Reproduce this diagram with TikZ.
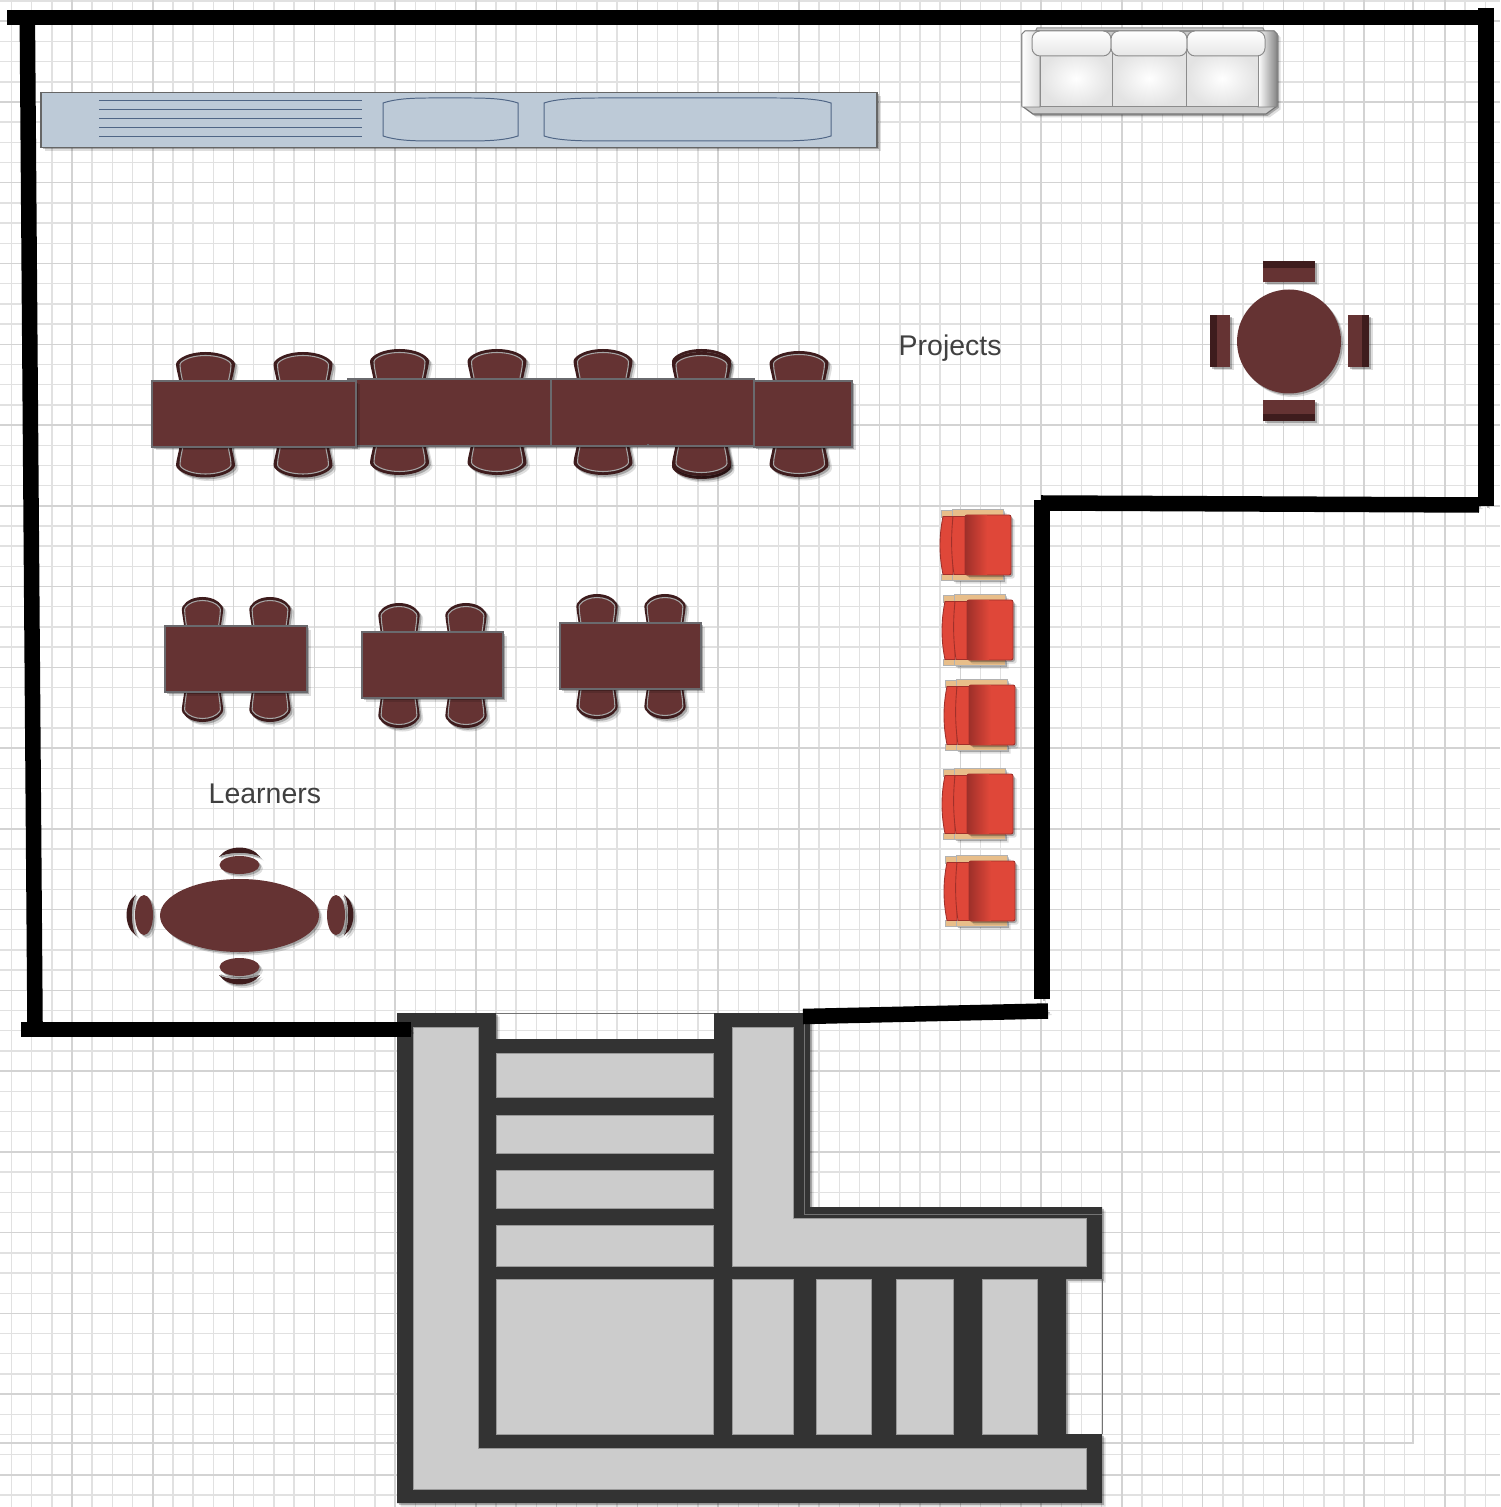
\documentclass[tikz,border=0pt]{standalone}
\usepackage{fontspec}
\setmainfont{Liberation Sans}
\usetikzlibrary{calc}
\definecolor{gridminor}{HTML}{E1E1E1}
\definecolor{gridmajor}{HTML}{D3D3D3}
\definecolor{wood}{HTML}{653333}
\definecolor{wooddark}{HTML}{3E1C1D}
\definecolor{woodedge}{HTML}{6A6A6E}
\definecolor{counter}{HTML}{BDCAD7}
\definecolor{counterline}{HTML}{4F6585}
\definecolor{stairdark}{HTML}{333333}
\definecolor{stairgrey}{HTML}{CCCCCC}
\definecolor{chairred}{HTML}{DF4739}
\definecolor{chairdeep}{HTML}{A0302A}
\definecolor{chairtan}{HTML}{E8BE8A}
\definecolor{label}{HTML}{404040}
\tikzset{gridthin/.style={draw=gridminor,line width=.4pt},gridthick/.style={draw=gridmajor,line width=.42pt},soft/.style={preaction={fill=black,opacity=.13,transform canvas={shift={(.035cm,-.035cm)}}},preaction={fill=black,opacity=.25,transform canvas={shift={(.018cm,-.018cm)}}}},wall/.style={draw=black,line width=.155cm,preaction={draw=black,opacity=.13,transform canvas={shift={(.035cm,-.035cm)}}},preaction={draw=black,opacity=.25,transform canvas={shift={(.018cm,-.018cm)}}}},tabletop/.style={soft,fill=wood,draw=woodedge,line width=.35pt},tread/.style={fill=stairgrey,draw=black!40,line width=.28pt},bowl/.style={draw=counterline,line width=.28pt},tag/.style={font=\fontsize{8.1}{10}\selectfont,text=label,anchor=base west,inner sep=0pt},
pics/chair/.style={code={\path[soft,fill=wooddark] (-26,33) .. controls (-26,26) and (-29,20) .. (-29.5,12)--(-28.5,9.5) .. controls (-23,3) and (-11,0) .. (0,0) .. controls (11,0) and (23,3) .. (28.5,9.5)--(29.5,12) .. controls (29,20) and (26,26) .. (26,33)--cycle; \draw[fill=wood,draw=black!35,line width=.3pt] (-22.5,33) .. controls (-23,26) and (-25.5,20) .. (-25.5,12.5)--(-24.5,10.5) .. controls (-20,6) and (-10,3.5) .. (0,3.5) .. controls (10,3.5) and (20,6) .. (24.5,10.5)--(25.5,12.5) .. controls (25.5,20) and (23,26) .. (22.5,33)--cycle;}},
pics/stool/.style={code={\path[soft,fill=wooddark] (-20.5,-8) .. controls (-12,-20.6) and (12,-20.6) .. (20.5,-8) .. controls (12,-13.3) and (-12,-13.3) .. (-20.5,-8)--cycle; \draw[draw=black!35,line width=.45pt] (-19,-8) .. controls (-10,-12) and (10,-12) .. (19,-8); \path[soft,fill=wood] (0,0) ellipse [x radius=20,y radius=9];}},
pics/seat/.style={code={\path[fill=chairtan,draw=black!30,line width=.2pt] (1,.5) rectangle (13,7) (1,64.5) rectangle (13,70.5); \path[soft,fill=chairtan,draw=black!30,line width=.2pt] (12,-.5) rectangle (63,6) (12,64) rectangle (63,70); \draw[fill=chairred,draw=chairdeep,line width=.25pt] (3,6.5)--(13,6.5)--(13,64.5)--(3,64.5) .. controls (-1,45) and (-1,26) .. (3,6.5)--cycle; \draw[fill=chairred,draw=chairdeep,line width=.25pt] (13,6.5) .. controls (11,25) and (11,45) .. (14,64.5)--(26,64.5)--(26,6.5)--cycle; \draw[soft,rounded corners=.02cm,fill=chairred,draw=chairdeep,line width=.25pt] (25,5) rectangle (71,65); \shade[left color=chairdeep,right color=chairred] (25.5,5.5) rectangle (47,64.5);}}}

\begin{document}
\begin{tikzpicture}[x=.01cm,y=-.01cm]

\useasboundingbox (0,0) rectangle (1500,1507);
\fill[white] (0,0) rectangle (1500,1507);
\foreach \k in {-3,...,70} {\draw[gridthin] ({72+20.19*\k},0)--({72+20.19*\k},1507);}
\foreach \k in {-5,...,69} {\draw[gridthin] (0,{102+20.19*\k})--(1500,{102+20.19*\k});}
\foreach \k in {0,...,17} {\draw[gridthick] ({72+80.76*\k},0)--({72+80.76*\k},1507);}
\foreach \k in {-1,...,17} {\draw[gridthick] (0,{102+80.76*\k})--(1500,{102+80.76*\k});}
\draw[gridthick] (0,1443)--(1413,1443)--(1413,0);

\draw[soft,fill=counter,draw=black!60,line width=.3pt] (41,92.5) rectangle (877,147.5);
\foreach \y in {101,110,119,128,137} {\draw[bowl] (99,\y)--(362,\y);}
\draw[bowl] (383,103) .. controls (395,99) and (410,98) .. (430,98)--(470,98) .. controls (490,98) and (506,99) .. (518,103)--(518,136) .. controls (506,140) and (490,141) .. (470,141)--(430,141) .. controls (410,141) and (395,140) .. (383,136)--cycle;
\draw[bowl] (544,103) .. controls (556,99) and (575,98) .. (600,98)--(775,98) .. controls (800,98) and (819,99) .. (831,103)--(831,136) .. controls (819,140) and (800,141) .. (775,141)--(600,141) .. controls (575,141) and (556,140) .. (544,136)--cycle;

\draw[fill=stairgrey,draw=black!45,line width=.28pt] (1035,32)--(1037,28)--(1263,28)--(1265,32)--cycle;
\draw[soft,fill=stairgrey,draw=black!55,line width=.3pt] (1022,34)--(1025,31)--(1274,31)--(1277,34)--(1277,106)--(1266,114)--(1033,114)--(1022,106)--cycle;
\draw[left color=white,right color=black!14,draw=black!50,line width=.25pt] (1022,34)--(1025,31)--(1040,31)--(1040,107)--(1022,107)--cycle;
\draw[left color=white,right color=black!48,draw=black!50,line width=.25pt] (1258,31)--(1274,31)--(1277,34)--(1277,107)--(1258,107)--cycle;
\foreach \a/\b in {1040/1112,1112/1186,1186/1258} {\draw[inner color=white,outer color=black!11,draw=black!45,line width=.28pt] (\a,50) rectangle (\b,107);}
\foreach \a/\b in {1032/1111,1111/1187,1187/1265} {\draw[rounded corners=.08cm,top color=white,bottom color=black!10,draw=black!45,line width=.28pt] (\a,31) rectangle (\b,56);}

\foreach \cx/\ctop/\cbot in {205.5/352/477.5,303/352/477.5,399.5/349/475,497/349/475,603/349/475,799/351/477} {\pic at (\cx,\ctop) {chair}; \pic[yscale=-1] at (\cx,\cbot) {chair};}
\pic at (701.5,349) {chair}; \pic at (701.5,352) {chair}; \pic[yscale=-1] at (701.5,479) {chair}; \pic[yscale=-1] at (701.5,476) {chair};
\draw[tabletop] (348,379) rectangle (551,446);
\draw[tabletop] (152,381) rectangle (356,447);
\draw[tabletop] (551,379) rectangle (754,446);
\draw[draw=woodedge,line width=.35pt] (648,444)--(648,447);
\draw[tabletop] (754,381) rectangle (852,447);

\foreach \cx/\ctop/\cbot in {202.5/597/722,270/597/722,399/603/728,466/603/728,597/594/719,665/594/719} {\pic[xscale=.7] at (\cx,\ctop) {chair}; \pic[xscale=.7,yscale=-1] at (\cx,\cbot) {chair};}
\draw[tabletop] (165,626) rectangle (307,692);
\draw[tabletop] (362,632) rectangle (503,698);
\draw[tabletop] (560,623) rectangle (701,689);

\fill[soft,fill=wood] (1289,341.5) circle [radius=52];
\foreach \a/\b/\c/\d/\e/\f/\g/\h in {1263/261/1315/282/1263/261/1315/268,1263/400/1315/421/1263/414/1315/421,1210/315/1230/367/1210/315/1217/367,1348/315/1369/367/1362/315/1369/367} {\fill[soft,fill=wood] (\a,\b) rectangle (\c,\d); \fill[wooddark] (\e,\f) rectangle (\g,\h);}

\path[soft,fill=wood] (239.5,915.5) ellipse [x radius=79.5,y radius=36.5];
\pic at (239.5,865) {stool}; \pic[rotate=180] at (239.5,967) {stool};
\pic[rotate=90] at (144,915) {stool}; \pic[rotate=-90] at (336,915) {stool};

\foreach \cx/\cy in {940/510,942/595,944/680,942/769,944/856} {\pic at (\cx,\cy) {seat};}

\fill[soft,fill=stairdark] (397,1013)--(496,1013)--(496,1039)--(714,1039)--(714,1013)--(810,1013)--(810,1207)--(1102,1207)--(1102,1279)--(1066,1279)--(1066,1434)--(1102,1434)--(1102,1503)--(397,1503)--cycle;
\draw[draw=black!55,line width=.28pt] (496,1013)--(714,1013);
\draw[draw=black!55,line width=.28pt] (1102,1279)--(1102,1434);
\draw[draw=black!55,line width=.28pt] (804,1013)--(804,1214)--(1102,1214);
\draw[tread] (413,1027)--(478,1027)--(478,1448)--(1086,1448)--(1086,1489)--(413,1489)--cycle;
\draw[tread] (732,1027)--(793,1027)--(793,1218)--(1086,1218)--(1086,1266)--(732,1266)--cycle;
\foreach \a/\b in {1053/1097,1115/1153,1170/1208,1225/1266,1279/1434} {\draw[tread] (496,\a) rectangle (713.5,\b);}
\foreach \a/\b in {732/793,816/871,896/953,982/1037} {\draw[tread] (\a,1279) rectangle (\b,1434);}

\draw[wall] (7,17.7)--(1478,17.7);
\draw[wall] (27.3,15)--(35,1022);
\draw[wall] (21,1029.3)--(410.5,1029.3);
\draw[wall] (1486,8)--(1486,506);
\draw[wall] (1041,503)--(1479,505);
\draw[wall] (1042,500)--(1042,999);
\draw[wall] (803,1016.5)--(1048,1011);

\node[tag] (projects) at (898,356) {Projects};
\node[tag] (learners) at (208,803) {Learners};
\end{tikzpicture}
\end{document}
